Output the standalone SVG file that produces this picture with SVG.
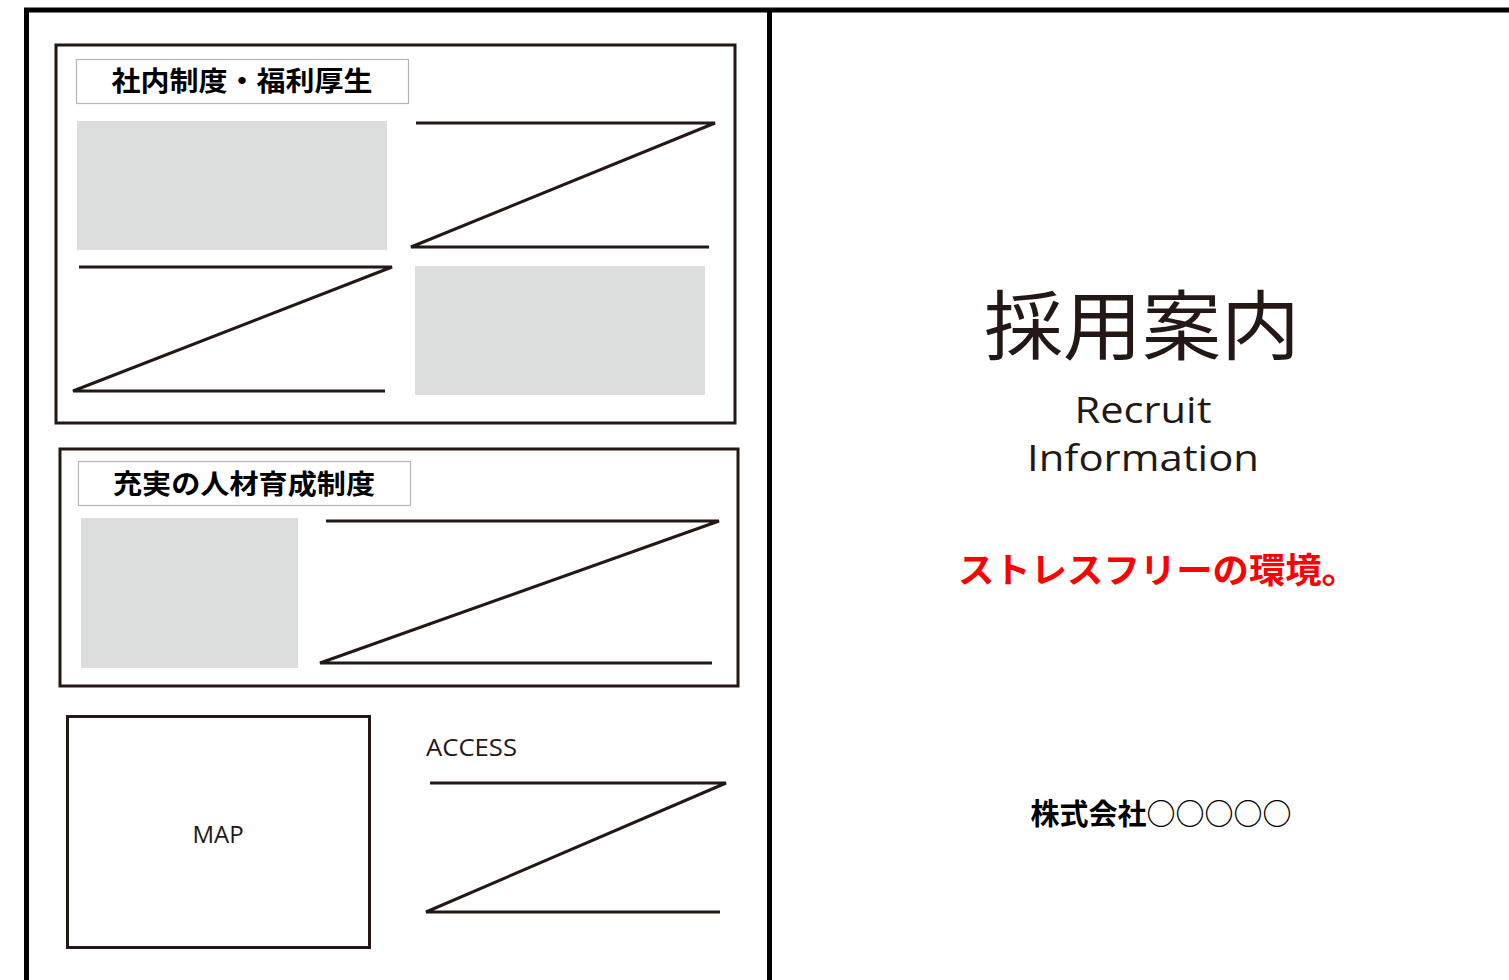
<svg xmlns="http://www.w3.org/2000/svg" width="1509" height="980" viewBox="0 0 1509 980">
<style>
.frame{fill:none;stroke:#000;stroke-width:5}
.sec{fill:none;stroke:#231815;stroke-width:3}
.tbox{fill:#fff;stroke:#b5b5b5;stroke-width:1.2}
.ph{fill:#dcdddd}
.z{fill:none;stroke:#231815;stroke-width:3;stroke-linejoin:miter}
.ttl{font-family:"Noto Sans CJK JP","Noto Sans",sans-serif;font-weight:700;font-size:27px;fill:#000}
.lbl{font-family:"Open Sans","Noto Sans",sans-serif;font-size:24px;fill:#231815}
.en{font-family:"Open Sans","Noto Sans",sans-serif;font-weight:400;font-size:37px;fill:#231815}
</style>
<rect width="1509" height="980" fill="#fff"/>
<g id="frame">
<path class="frame" d="M26.5 985 V10 H1515"/>
<line class="frame" x1="769.5" y1="10" x2="769.5" y2="985"/>
</g>
<g id="welfare">
<rect class="sec" x="56" y="45" width="679" height="378"/>
<rect class="tbox" x="76.5" y="59.5" width="332" height="44"/>
<text class="ttl" x="242" y="91" text-anchor="middle" textLength="261" lengthAdjust="spacingAndGlyphs">社内制度・福利厚生</text>
<rect class="ph" x="77" y="121" width="310" height="129"/>
<path class="z" d="M416 123 H715 L411 247 H709"/>
<path class="z" d="M79 267 H392 L73 391 H385"/>
<rect class="ph" x="415" y="266" width="290" height="129"/>
</g>
<g id="training">
<rect class="sec" x="60" y="449" width="678" height="237"/>
<rect class="tbox" x="78.5" y="461.5" width="332" height="44"/>
<text class="ttl" x="244" y="494" text-anchor="middle" textLength="262" lengthAdjust="spacingAndGlyphs">充実の人材育成制度</text>
<rect class="ph" x="81" y="518" width="217" height="150"/>
<path class="z" d="M326 521 H719 L320 663 H712"/>
</g>
<g id="map">
<rect class="sec" x="67.5" y="716.5" width="302" height="231"/>
<text class="lbl" x="218" y="843" text-anchor="middle">MAP</text>
</g>
<g id="access">
<text class="lbl" x="426" y="756" textLength="91" lengthAdjust="spacingAndGlyphs">ACCESS</text>
<path class="z" d="M430 783 H726 L426 912 H720"/>
</g>
<g id="cover">
<text x="1142" y="354" text-anchor="middle" font-family="'Noto Sans CJK JP',sans-serif" font-weight="400" font-size="76" fill="#231815" textLength="316" lengthAdjust="spacingAndGlyphs">採用案内</text>
<text class="en" x="1143" y="423" text-anchor="middle" textLength="137" lengthAdjust="spacingAndGlyphs">Recruit</text>
<text class="en" x="1143" y="471" text-anchor="middle" textLength="232" lengthAdjust="spacingAndGlyphs">Information</text>
<text x="1158" y="583" text-anchor="middle" font-family="'Noto Sans CJK JP',sans-serif" font-weight="700" font-size="35" fill="#ff0000" textLength="400" lengthAdjust="spacingAndGlyphs">ストレスフリーの環境。</text>
<text x="1161" y="825" text-anchor="middle" font-family="'Noto Sans CJK JP',sans-serif" font-weight="700" font-size="29" fill="#000" textLength="261" lengthAdjust="spacingAndGlyphs">株式会社○○○○○</text>
</g>
</svg>
